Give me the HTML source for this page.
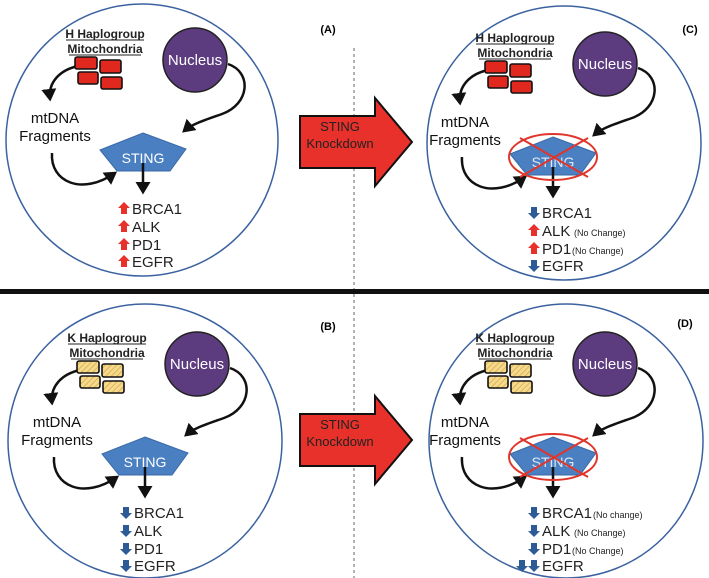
<!DOCTYPE html>
<html><head><meta charset="utf-8"><style>
html,body{margin:0;padding:0;background:#fff}
svg{display:block}
text{font-family:"Liberation Sans",sans-serif}
</style></head><body>
<svg width="709" height="578" viewBox="0 0 709 578" xmlns="http://www.w3.org/2000/svg">
<defs>
<marker id="ah" markerWidth="6" markerHeight="6" refX="4" refY="3" orient="auto" markerUnits="strokeWidth">
<path d="M0,0 L5,3 L0,6 z" fill="#111"/></marker>
<pattern id="hatch" width="4" height="4" patternUnits="userSpaceOnUse" patternTransform="rotate(45)">
<rect width="4" height="4" fill="#f6d98a"/><line x1="0" y1="0" x2="0" y2="4" stroke="#c9a040" stroke-width="1.2"/></pattern>
<g id="up"><path d="M0,-7 L6,-1 L3,-1 L3,5 L-3,5 L-3,-1 L-6,-1 z" fill="#e8312a"/></g>
<g id="dn"><path d="M0,6 L6,0 L3,0 L3,-6 L-3,-6 L-3,0 L-6,0 z" fill="#2d5b95"/></g>
<g id="base">
<circle cx="195" cy="60" r="32" fill="#5c3b7f" stroke="#222" stroke-width="1.5"/>
<text x="195" y="65" font-size="15" fill="#fff" text-anchor="middle">Nucleus</text>
<text x="55" y="123" font-size="15" fill="#111" text-anchor="middle">mtDNA</text>
<text x="55" y="141" font-size="15" fill="#111" text-anchor="middle">Fragments</text>
<path d="M143,133 L186,149 L170,171 L117,171 L100,150 z" fill="#4a7fc1" stroke="#3a6aa8" stroke-width="1"/>
<path d="M78,66 C60,70 48,82 50,99" fill="none" stroke="#111" stroke-width="2.5" marker-end="url(#ah)"/>
<path d="M228,64 C252,72 250,104 222,114 C205,120 192,124 184,131" fill="none" stroke="#111" stroke-width="2.5" marker-end="url(#ah)"/>
<path d="M52,153 C50,182 82,196 115,173" fill="none" stroke="#111" stroke-width="2.5" marker-end="url(#ah)"/>
<path d="M143,163 L143,192" fill="none" stroke="#111" stroke-width="2.5" marker-end="url(#ah)"/>
<text x="132" y="214" font-size="15" fill="#222">BRCA1</text>
<text x="132" y="232" font-size="15" fill="#222">ALK</text>
<text x="132" y="250" font-size="15" fill="#222">PD1</text>
<text x="132" y="267" font-size="15" fill="#222">EGFR</text>
</g>
<g id="hmito">
<text x="105" y="38" font-size="12" font-weight="bold" fill="#222" text-anchor="middle">H Haplogroup</text>
<text x="105" y="53" font-size="12" font-weight="bold" fill="#222" text-anchor="middle">Mitochondria</text>
<line x1="66" y1="40" x2="144" y2="40" stroke="#222" stroke-width="1"/>
<line x1="69" y1="55" x2="141" y2="55" stroke="#222" stroke-width="1"/>
<g fill="#e0281f" stroke="#111" stroke-width="1.6">
<rect x="75" y="57" width="22" height="12" rx="2"/><rect x="100" y="60" width="21" height="13" rx="2"/>
<rect x="78" y="72" width="20" height="12" rx="2"/><rect x="101" y="77" width="21" height="12" rx="2"/></g>
</g>
<g id="kmito">
<text x="105" y="38" font-size="12" font-weight="bold" fill="#222" text-anchor="middle">K Haplogroup</text>
<text x="105" y="53" font-size="12" font-weight="bold" fill="#222" text-anchor="middle">Mitochondria</text>
<line x1="66" y1="40" x2="144" y2="40" stroke="#222" stroke-width="1"/>
<line x1="69" y1="55" x2="141" y2="55" stroke="#222" stroke-width="1"/>
<g fill="url(#hatch)" stroke="#111" stroke-width="1.6">
<rect x="75" y="57" width="22" height="12" rx="2"/><rect x="100" y="60" width="21" height="13" rx="2"/>
<rect x="78" y="72" width="20" height="12" rx="2"/><rect x="101" y="77" width="21" height="12" rx="2"/></g>
</g>
<g id="cross">
<ellipse cx="143" cy="153" rx="44" ry="23" fill="none" stroke="#e0352b" stroke-width="2"/>
<line x1="110" y1="134" x2="178" y2="173" stroke="#e0352b" stroke-width="2"/>
<line x1="178" y1="134" x2="110" y2="173" stroke="#e0352b" stroke-width="2"/>
</g>
<g id="bigarrow">
<path d="M300,116 L375,116 L375,98 L412,142 L375,186 L375,168 L300,168 z" fill="#e8312a" stroke="#111" stroke-width="2"/>
<text x="340" y="131" font-size="13" fill="#222" text-anchor="middle">STING</text>
<text x="340" y="148" font-size="13" fill="#222" text-anchor="middle">Knockdown</text>
</g>
</defs>

<line x1="354" y1="48" x2="354" y2="578" stroke="#666" stroke-width="1" stroke-dasharray="3,3"/>
<rect x="0" y="289" width="709" height="5" fill="#111"/>

<circle cx="142" cy="140" r="136" fill="none" stroke="#3b62a0" stroke-width="1.5"/>
<circle cx="564" cy="143" r="137" fill="none" stroke="#3b62a0" stroke-width="1.5"/>
<circle cx="145" cy="441" r="137" fill="none" stroke="#3b62a0" stroke-width="1.5"/>
<circle cx="566" cy="441" r="137" fill="none" stroke="#3b62a0" stroke-width="1.5"/>

<text x="328" y="33" font-size="11" font-weight="bold" text-anchor="middle">(A)</text>
<text x="690" y="33" font-size="11" font-weight="bold" text-anchor="middle">(C)</text>
<text x="328" y="330" font-size="11" font-weight="bold" text-anchor="middle">(B)</text>
<text x="685" y="327" font-size="11" font-weight="bold" text-anchor="middle">(D)</text>

<use href="#bigarrow"/>
<use href="#bigarrow" y="298"/>

<g>
<use href="#base"/><use href="#hmito"/>
<text x="143" y="163" font-size="14" fill="#fff" text-anchor="middle">STING</text>
<use href="#up" x="124" y="209"/><use href="#up" x="124" y="227"/><use href="#up" x="124" y="245"/><use href="#up" x="124" y="262"/>
</g>
<g transform="translate(410,4)">
<use href="#base"/><use href="#hmito"/>
<text x="143" y="163" font-size="14" fill="#dfe8f5" text-anchor="middle">STING</text>
<use href="#cross"/>
<use href="#dn" x="124" y="209"/><use href="#up" x="124" y="227"/><use href="#up" x="124" y="245"/><use href="#dn" x="124" y="262"/>
<text x="164" y="232" font-size="9" fill="#222">(No Change)</text>
<text x="162" y="250" font-size="9" fill="#222">(No Change)</text>
</g>
<g transform="translate(2,304)">
<use href="#base"/><use href="#kmito"/>
<text x="143" y="163" font-size="14" fill="#fff" text-anchor="middle">STING</text>
<use href="#dn" x="124" y="209"/><use href="#dn" x="124" y="227"/><use href="#dn" x="124" y="245"/><use href="#dn" x="124" y="262"/>
</g>
<g transform="translate(410,304)">
<use href="#base"/><use href="#kmito"/>
<text x="143" y="163" font-size="14" fill="#dfe8f5" text-anchor="middle">STING</text>
<use href="#cross"/>
<use href="#dn" x="124" y="209"/><use href="#dn" x="124" y="227"/><use href="#dn" x="124" y="245"/><use href="#dn" x="124" y="262"/><use href="#dn" x="112" y="262"/>
<text x="183" y="214" font-size="9" fill="#222">(No change)</text>
<text x="164" y="232" font-size="9" fill="#222">(No Change)</text>
<text x="162" y="250" font-size="9" fill="#222">(No Change)</text>
</g>
</svg>
</body></html>
